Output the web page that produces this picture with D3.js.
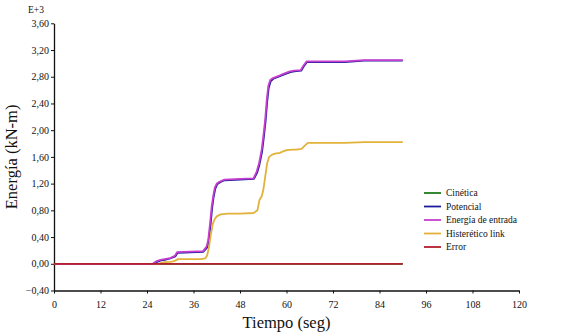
<!DOCTYPE html>
<html>
<head>
<meta charset="utf-8">
<script src="https://cdn.jsdelivr.net/npm/d3@7"></script>
<style>
  body { margin: 0; background: #fff; }
  svg { display: block; }
  text { font-family: "Liberation Serif", "DejaVu Serif", serif; fill: #111; }
</style>
</head>
<body>
<div id="chart"></div>
<script>
// energy series, values in E+3 kN-m, time in seconds
const tEntrada = [0, 25.5, 26.5, 27.5, 28.5, 30, 31.2, 31.8, 38.5, 39.4, 39.8, 40.3, 40.7, 41.1, 41.5, 42, 42.8, 44, 48, 51.5, 52.3, 52.9, 53.6, 54, 54.5, 54.9, 55.3, 55.8, 56.5, 58.3, 59.5, 60.9, 62, 63.7, 64.3, 65.2, 70, 75, 80, 85, 90];
const entrada = [0, 0, 0.04, 0.06, 0.07, 0.085, 0.12, 0.175, 0.19, 0.26, 0.36, 0.62, 0.86, 1.02, 1.14, 1.20, 1.23, 1.26, 1.27, 1.28, 1.38, 1.50, 1.71, 1.90, 2.16, 2.45, 2.66, 2.75, 2.78, 2.82, 2.85, 2.88, 2.89, 2.90, 2.96, 3.03, 3.03, 3.03, 3.05, 3.05, 3.05];

const tPotencial = [0, 25.6, 26.6, 27.6, 28.6, 30, 31.3, 31.9, 38.5, 39.5, 39.9, 40.4, 40.8, 41.2, 41.6, 42.1, 42.9, 44, 48, 51.6, 52.4, 53, 53.7, 54.1, 54.6, 55, 55.4, 55.9, 56.6, 58.3, 59.6, 61, 62, 63.8, 64.4, 65.3, 70, 75, 80, 85, 90];
const potencial = [0, 0, 0.03, 0.05, 0.06, 0.08, 0.11, 0.165, 0.18, 0.24, 0.33, 0.58, 0.83, 1.00, 1.12, 1.19, 1.22, 1.25, 1.26, 1.27, 1.36, 1.48, 1.68, 1.87, 2.13, 2.42, 2.63, 2.73, 2.77, 2.81, 2.84, 2.87, 2.88, 2.89, 2.95, 3.02, 3.02, 3.02, 3.04, 3.04, 3.04];

const tHisteretico = [0, 27, 28, 30, 31, 32, 38, 39, 39.5, 40, 40.5, 41, 41.5, 42, 43, 45, 48, 51.5, 52.5, 53, 53.6, 54, 54.5, 55, 55.5, 56.2, 57, 58.3, 59, 60, 61.7, 62.5, 63.9, 64.6, 65.5, 70, 75, 80, 85, 90];
const histeretico = [0, 0, 0.02, 0.03, 0.04, 0.07, 0.07, 0.08, 0.12, 0.25, 0.45, 0.60, 0.67, 0.71, 0.74, 0.75, 0.75, 0.76, 0.80, 0.95, 1.01, 1.10, 1.30, 1.50, 1.60, 1.63, 1.65, 1.66, 1.68, 1.70, 1.71, 1.71, 1.72, 1.76, 1.81, 1.81, 1.81, 1.82, 1.82, 1.82];

const tCinetica = [0, 90];
const cinetica = [0, 0];
const tError = [0, 90];
const errorE = [0, 0];

const seriesNames = ["Cinética", "Potencial", "Energía de entrada", "Histerético link", "Error"];
const seriesColors = ["#1e7b1e", "#1c1c9c", "#c63fcf", "#e2b23a", "#b3202e"];
// drawing order: error on top of cinetica, entrada above potencial
const seriesData = [
  { name: "Cinética", t: tCinetica, v: cinetica },
  { name: "Potencial", t: tPotencial, v: potencial },
  { name: "Histerético link", t: tHisteretico, v: histeretico },
  { name: "Energía de entrada", t: tEntrada, v: entrada },
  { name: "Error", t: tError, v: errorE }
];

const xTicks = d3.range(0, 121, 12);
const yTicks = d3.range(-0.4, 3.61, 0.4);

const W = 568, H = 336;
const SERIF = "Liberation Serif, DejaVu Serif, serif";
const svg = d3.select("#chart").append("svg").attr("width", W).attr("height", H);

const x = d3.scaleLinear().domain([0, 120]).range([54, 519]);
const y = d3.scaleLinear().domain([-0.4, 3.6]).range([290.5, 23.3]);
const color = d3.scaleOrdinal().domain(seriesNames).range(seriesColors);

const fmt = v => d3.format(".2f")(Math.abs(v) < 1e-9 ? 0 : v).replace(".", ",");

// axes
const xAxis = svg.append("g")
  .attr("transform", `translate(0,${y(-0.4)})`)
  .call(d3.axisBottom(x).tickValues(xTicks).tickSize(3).tickSizeOuter(0).tickFormat(d3.format("d")));
const yAxis = svg.append("g")
  .attr("transform", `translate(${x(0)},0)`)
  .call(d3.axisLeft(y).tickValues(yTicks).tickSize(3).tickSizeOuter(0).tickFormat(fmt));

[xAxis, yAxis].forEach(a => {
  a.attr("font-family", SERIF).attr("font-size", 10);
  a.select(".domain").attr("stroke", "#111").attr("stroke-width", 1.3);
  a.selectAll(".tick line").attr("stroke", "#111");
  a.selectAll(".tick text").attr("fill", "#222");
});
xAxis.selectAll(".tick text").attr("dy", "1.1em");
yAxis.selectAll(".tick text").attr("x", -5);

// lines
const line = d3.line().x(d => x(d[0])).y(d => y(d[1]));
seriesData.forEach(s => {
  svg.append("path")
    .datum(d3.zip(s.t, s.v))
    .attr("fill", "none")
    .attr("stroke", color(s.name))
    .attr("stroke-width", 1.8)
    .attr("stroke-linejoin", "round")
    .attr("d", line);
});

// titles
svg.append("text")
  .attr("x", 36).attr("y", 13)
  .attr("text-anchor", "middle")
  .style("font-size", "9.5px")
  .text("E+3");

svg.append("text")
  .attr("x", (x(0) + x(120)) / 2).attr("y", 328)
  .attr("text-anchor", "middle")
  .style("font-size", "16.5px")
  .text("Tiempo (seg)");

svg.append("text")
  .attr("transform", `translate(17,${(y(-0.4) + y(3.6)) / 2}) rotate(-90)`)
  .attr("text-anchor", "middle")
  .style("font-size", "16.5px")
  .text("Energía (kN-m)");

// legend
const legend = svg.append("g").attr("transform", "translate(424,193)");
seriesNames.forEach((name, i) => {
  const g = legend.append("g").attr("transform", `translate(0,${i * 13.5})`);
  g.append("line").attr("x1", 0).attr("x2", 17).attr("y1", 0).attr("y2", 0)
    .attr("stroke", color(name)).attr("stroke-width", 1.8);
  g.append("text").attr("x", 22).attr("y", 3)
    .style("font-size", "9.5px")
    .attr("fill", "#222")
    .text(name);
});
</script>
</body>
</html>
